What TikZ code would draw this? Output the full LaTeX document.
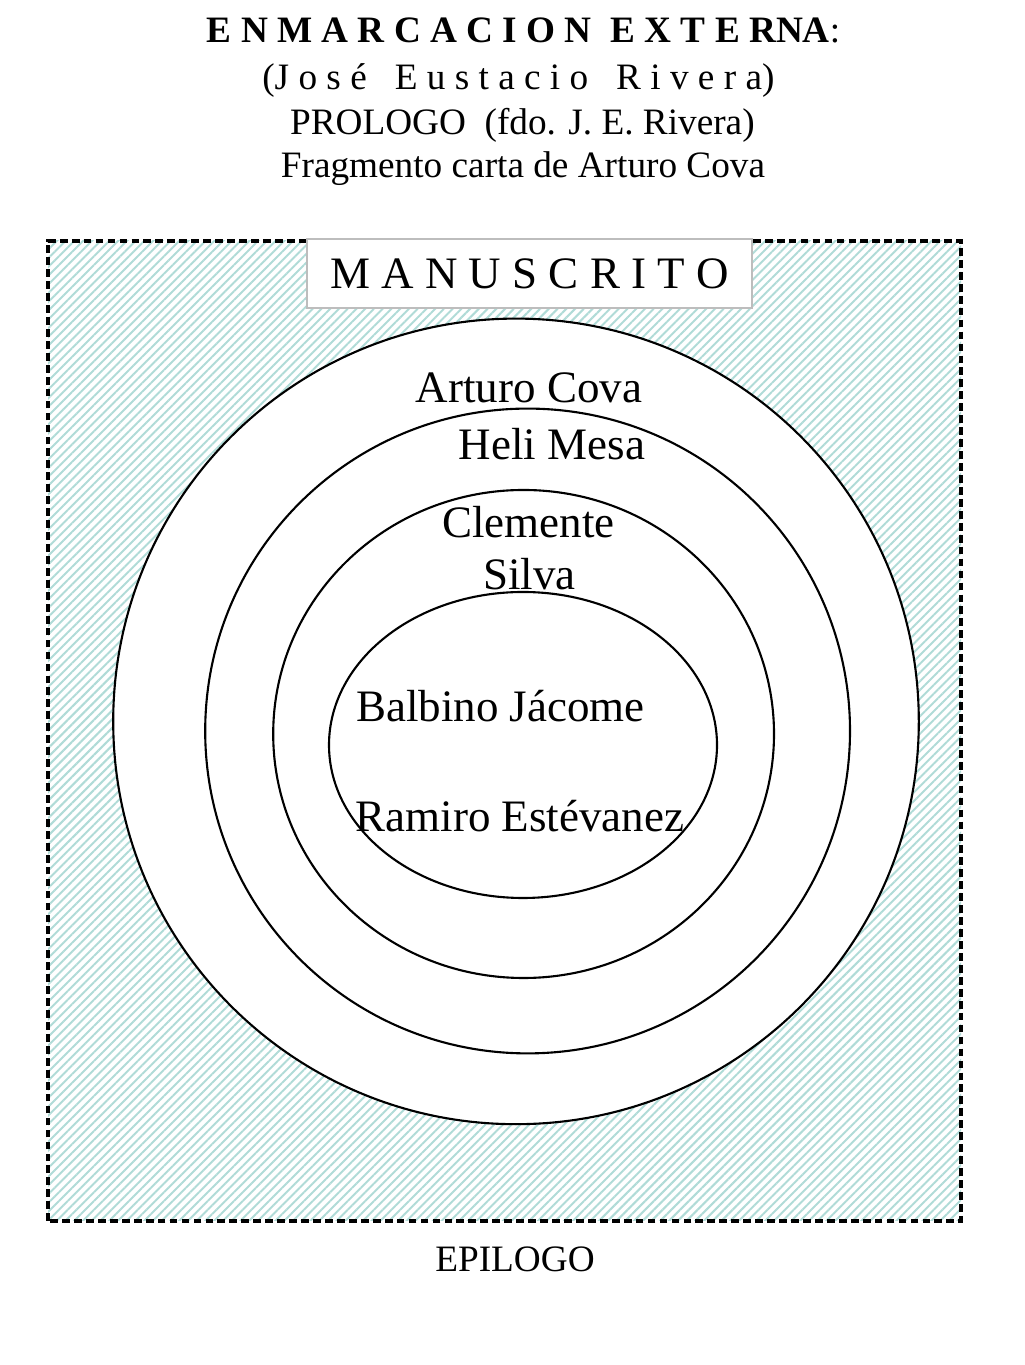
\documentclass[tikz,border=0pt]{standalone}
\usepackage{fontspec}
\setmainfont{Liberation Serif}
\usetikzlibrary{positioning, patterns.meta}
\definecolor{hatchcolor}{HTML}{B0DBD7}
\definecolor{boxgray}{HTML}{BDBDBD}

\begin{document}
\begin{tikzpicture}[
    % Text styles
    headtext/.style={
        font=\fontsize{26.5}{30}\selectfont,
        anchor=base, inner sep=0pt
    },
    nametext/.style={
        font=\fontsize{32}{38}\selectfont,
        anchor=base, inner sep=0pt
    },
    % Shape styles
    ring/.style={
        draw=black, fill=white, line width=1.5pt
    },
    hatchframe/.style={
        draw=black, line width=2.6pt, dash pattern=on 5.5pt off 3pt,
        pattern={Lines[angle=45, distance=4.4pt, line width=1.4pt]},
        pattern color=hatchcolor
    },
    titlebox/.style={
        rectangle, draw=boxgray, fill=white, line width=1.3pt,
        minimum width=11.125cm, minimum height=1.725cm,
        font=\fontsize{32}{38}\selectfont
    }
]
\useasboundingbox (0,0) rectangle (25.6,34.125);

% ============ HEADER LABELS ============
\node[headtext] (enmarc) at (13.09, 33.05) {\textbf{E N M A R C A C I O N\ \ E X T E RNA}:};
\node[headtext] (autor) at (12.96, 31.875) {(J o s é\ \ \ E u s t a c i o\ \ \ R i v e r a)};
\node[headtext] (prologo) at (13.06, 30.75) {PROLOGO\ \ (fdo. J. E. Rivera)};
\node[headtext] (carta) at (13.075, 29.675) {Fragmento carta de Arturo Cova};

% ============ HATCHED FRAME ============
\path[hatchframe] (1.2, 3.6) rectangle (24.025, 28.1);

% ============ NARRATIVE RINGS ============
\draw[ring] (12.9, 16.09) circle [radius=10.07];
\draw[ring] (13.19, 15.85) circle [radius=8.06];
\draw[ring] (13.09, 15.775) ellipse [x radius=6.26, y radius=6.1];
\draw[ring] (13.075, 15.5) ellipse [x radius=4.85, y radius=3.825];

% ============ MANUSCRIPT BOX ============
\node[titlebox] (manuscrito) at (13.24, 27.29) {M A N U S C R I T O};

% ============ NARRATORS ============
\node[nametext] (cova) at (13.225, 24.05) {Arturo Cova};
\node[nametext] (mesa) at (13.8, 22.625) {Heli Mesa};
\node[nametext] (clemente) at (13.21, 20.675) {Clemente};
\node[nametext] (silva) at (13.24, 19.375) {Silva};
\node[nametext] (jacome) at (12.51, 16.075) {Balbino Jácome};
\node[nametext] (ramiro) at (13.0, 13.325) {Ramiro Estévanez};

% ============ FOOTER ============
\node[headtext] (epilogo) at (12.875, 2.325) {EPILOGO};

\end{tikzpicture}
\end{document}
